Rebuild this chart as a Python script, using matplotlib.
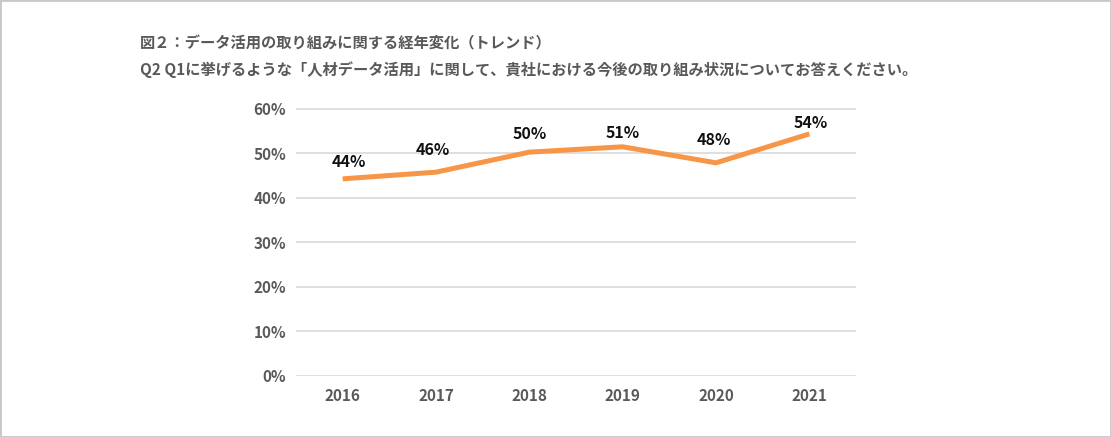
import matplotlib
matplotlib.use('Agg')
import matplotlib.pyplot as plt
from matplotlib.patches import Rectangle

plt.rcParams['font.family'] = ['Noto Sans CJK JP', 'DejaVu Sans']

title1 = '図２：データ活用の取り組みに関する経年変化（トレンド）'
title2 = 'Q2 Q1に挙げるような「人材データ活用」に関して、貴社における今後の取り組み状況についてお答えください。'
years = ['2016', '2017', '2018', '2019', '2020', '2021']
rates = [0.443, 0.458, 0.503, 0.515, 0.479, 0.544]
rate_labels = ['44%', '46%', '50%', '51%', '48%', '54%']
y_ticks = [0.0, 0.1, 0.2, 0.3, 0.4, 0.5, 0.6]
y_tick_labels = ['0%', '10%', '20%', '30%', '40%', '50%', '60%']

# label offsets (px) - labels were hand-placed in the original
label_dx = [6, -3, 0, 0, -2, 1]
label_dy = [17, 22, 18, 14, 23, 11]

DPI = 100
fig = plt.figure(figsize=(11.11, 4.37), dpi=DPI)
fig.patch.set_facecolor('white')
ax = fig.add_axes([0.2664, 0.1396, 0.5041, 0.6314])

x = list(range(len(years)))
ax.plot(x, rates, color='#F79646', linewidth=3.6, solid_capstyle='butt', solid_joinstyle='round', zorder=3)

px = 72 / DPI
for i, lab in enumerate(rate_labels):
    ax.annotate(lab, (x[i], rates[i]), xytext=(label_dx[i] * px, label_dy[i] * px),
                textcoords='offset points', ha='center', va='center',
                fontsize=11.5, fontweight='bold', color='#111111')

ax.set_xlim(-0.5, len(years) - 0.5)
ax.set_ylim(0, 0.62)
ax.set_yticks(y_ticks)
ax.set_yticklabels(y_tick_labels)
ax.set_xticks(x)
ax.set_xticklabels(years)
ax.tick_params(axis='both', length=0, labelsize=11, labelcolor='#5a5a5a')
ax.tick_params(axis='x', pad=9)
ax.tick_params(axis='y', pad=7)
for t in ax.get_xticklabels() + ax.get_yticklabels():
    t.set_fontweight('bold')

ax.grid(axis='y', color='#d9d9d9', linewidth=1.2)
ax.set_axisbelow(True)
for s in ax.spines.values():
    s.set_visible(False)

fig.text(140 / 1111, 1 - 43 / 437, title1, fontsize=11, fontweight='bold', color='#595959', va='center')
fig.text(140 / 1111, 1 - 70 / 437, title2, fontsize=11, fontweight='bold', color='#595959', va='center')

fig.patches.append(Rectangle((0, 0), 1, 1, transform=fig.transFigure, fill=False,
                             edgecolor='#c8c8c8', linewidth=2, zorder=10))

plt.savefig('out.png', dpi=DPI)
plt.close()
